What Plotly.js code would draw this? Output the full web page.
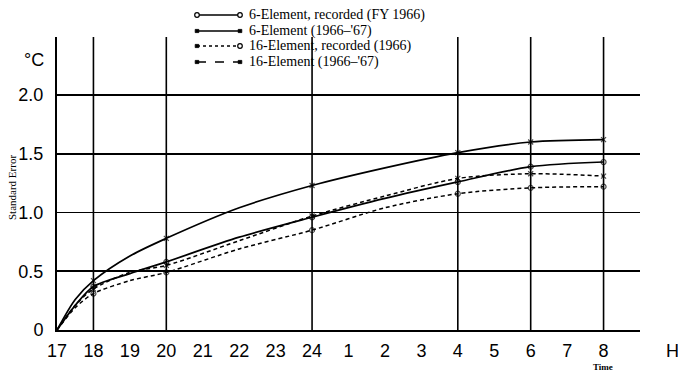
<!DOCTYPE html>
<html><head><meta charset="utf-8">
<script src="https://cdn.plot.ly/plotly-3.0.1.min.js"></script>
<style>html,body{margin:0;padding:0;background:#fff}</style>
</head><body><div id="chart" style="width:678px;height:373px"></div>
<script>
// ---- data (hours 17..24 then 1..8 next day mapped to 25..32) ----
const hours = [17, 17.5, 18, 19, 20, 22, 24, 26, 28, 30, 32];
const tickHours = [17,18,19,20,21,22,23,24,25,26,27,28,29,30,31,32];
const tickLabels = ["17","18","19","20","21","22","23","24","1","2","3","4","5","6","7","8"];
const yTicks = [0, 0.5, 1.0, 1.5, 2.0];
const yTickLabels = ["0", "0.5", "1.0", "1.5", "2.0"];
const gridHours = [18, 20, 24, 28, 30, 32];
const sixRecorded     = [0, 0.21, 0.37, 0.48, 0.58, 0.79, 0.96, 1.12, 1.26, 1.39, 1.43];
const six6667         = [0, 0.26, 0.42, 0.63, 0.78, 1.04, 1.23, 1.38, 1.51, 1.60, 1.62];
const sixteenRecorded = [0, 0.19, 0.31, 0.42, 0.49, 0.69, 0.85, 1.04, 1.16, 1.21, 1.22];
const sixteen6667     = [0, 0.21, 0.35, 0.49, 0.55, 0.76, 0.97, 1.14, 1.29, 1.33, 1.31];
const seriesNames = ["6-Element, recorded (FY 1966)", "6-Element (1966\u2013'67)",
                     "16-Element, recorded (1966)", "16-Element (1966\u2013'67)"];

// ---- layout geometry ----
const W = 678, H = 373, L = 57, R = 640, T = 37, B = 330;
const px2x = p => (p - L) / (R - L);
const py2y = p => (B - p) / (B - T);
const sizes = hours.map(h => gridHours.includes(h) ? 5 : 0);

function mk(y, name, dash, symbol, width) {
  return {
    x: hours, y: y, name: name, type: 'scatter', mode: 'lines+markers',
    line: {color: '#000', width: width, dash: dash, shape: 'spline', smoothing: 0.8},
    marker: {symbol: symbol, size: sizes, color: '#000', line: {color: '#000', width: 1.2}},
    showlegend: false, hoverinfo: 'skip'
  };
}
const traces = [
  mk(sixRecorded, seriesNames[0], 'solid', 'circle-open', 1.7),
  mk(six6667, seriesNames[1], 'solid', 'x-thin-open', 1.7),
  mk(sixteenRecorded, seriesNames[2], '4px,3px', 'circle-open', 1.5),
  mk(sixteen6667, seriesNames[3], '4px,3px', 'x-thin-open', 1.5)
];

const shapes = gridHours.map(h => ({
  type: 'line', xref: 'x', yref: 'paper', x0: h, x1: h, y0: 0, y1: 1,
  line: {color: '#000', width: 1.6}, layer: 'below'
}));

// custom legend
const legRows = [15, 31, 46, 62];
const legDash = ['solid', 'solid', 'dot', 'dash'];
const legL = 197, legR = 240;
const annotations = [];
legRows.forEach((ry, i) => {
  shapes.push({type: 'line', xref: 'paper', yref: 'paper', x0: px2x(legL), x1: px2x(legR),
    y0: py2y(ry), y1: py2y(ry), line: {color: '#000', width: i < 2 ? 1.7 : 1.3, dash: legDash[i]}});
  [legL, legR].forEach(ex => {
    const circ = (i === 0) || (i === 2 && ex === legR);
    if (circ) {
      shapes.push({type: 'circle', xref: 'paper', yref: 'paper', xsizemode: 'pixel', ysizemode: 'pixel',
        xanchor: px2x(ex), yanchor: py2y(ry), x0: -2.3, x1: 2.3, y0: -2.3, y1: 2.3,
        line: {color: '#000', width: 1.2}, fillcolor: '#fff'});
    } else {
      shapes.push({type: 'rect', xref: 'paper', yref: 'paper', xsizemode: 'pixel', ysizemode: 'pixel',
        xanchor: px2x(ex), yanchor: py2y(ry), x0: -1.8, x1: 1.8, y0: -1.6, y1: 1.6,
        line: {color: '#000', width: 0.8}, fillcolor: '#000'});
    }
  });
  annotations.push({xref: 'paper', yref: 'paper', x: px2x(247), y: py2y(ry), xanchor: 'left', yanchor: 'middle',
    text: seriesNames[i], showarrow: false, font: {family: 'Liberation Serif, Times New Roman, serif', size: 14, color: '#000'}});
});
annotations.push({xref: 'paper', yref: 'paper', x: px2x(34), y: py2y(60), xanchor: 'center', yanchor: 'middle',
  text: '°C', showarrow: false, font: {family: 'Liberation Sans, Arial, sans-serif', size: 18, color: '#000'}});
annotations.push({xref: 'paper', yref: 'paper', x: px2x(12), y: py2y(188), xanchor: 'center', yanchor: 'middle',
  text: 'Standard Error', textangle: -90, showarrow: false,
  font: {family: 'Liberation Serif, Times New Roman, serif', size: 11, color: '#000'}});
annotations.push({xref: 'paper', yref: 'paper', x: px2x(672), y: py2y(351), xanchor: 'center', yanchor: 'middle',
  text: 'H', showarrow: false, font: {family: 'Liberation Sans, Arial, sans-serif', size: 18, color: '#000'}});
annotations.push({xref: 'paper', yref: 'paper', x: px2x(603), y: py2y(367), xanchor: 'center', yanchor: 'middle',
  text: 'Time', showarrow: false, font: {family: 'Liberation Serif, Times New Roman, serif', size: 9, color: '#000', weight: 'bold'}});

const layout = {
  width: W, height: H, paper_bgcolor: '#fff', plot_bgcolor: '#fff',
  margin: {l: L, r: W - R, t: T, b: H - B},
  showlegend: false,
  xaxis: {range: [17, 33], tickvals: tickHours, ticktext: tickLabels,
    showgrid: false, zeroline: false, showline: true, linecolor: '#000', linewidth: 2,
    ticks: '', ticklabelstandoff: 3, fixedrange: true,
    tickfont: {family: 'Liberation Sans Narrow, Arial Narrow, sans-serif', size: 18, color: '#000'}},
  yaxis: {range: [0, (B - T) / 117.5], tickvals: yTicks, ticktext: yTickLabels,
    showgrid: true, gridcolor: '#000', gridwidth: 1.6, zeroline: false,
    showline: true, linecolor: '#000', linewidth: 2, ticks: '', ticklabelstandoff: 8,
    tickfont: {family: 'Liberation Sans Narrow, Arial Narrow, sans-serif', size: 18, color: '#000'}},
  shapes: shapes, annotations: annotations
};
Plotly.newPlot('chart', traces, layout, {staticPlot: true, displayModeBar: false});
</script></body></html>
